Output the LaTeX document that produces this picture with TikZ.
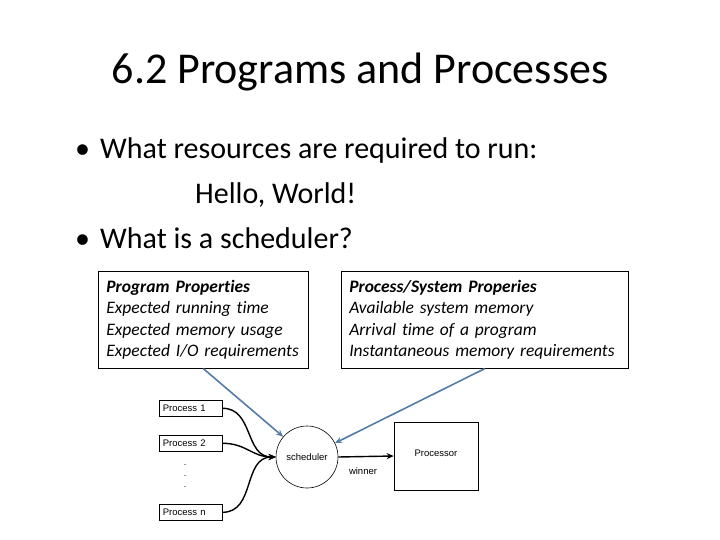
\documentclass[tikz,border=0pt]{standalone}
\usepackage{fontspec}
\setmainfont[Ligatures=NoCommon]{Carlito}
\newfontfamily\arialfont{Liberation Sans}
\usetikzlibrary{arrows.meta, positioning}

\definecolor{linkblue}{RGB}{84,124,170}

\begin{document}
\begin{tikzpicture}[
  x=1pt, y=-1pt,
  title/.style  = {anchor=base, font=\fontsize{44}{50}\selectfont},
  bullet/.style = {anchor=base west, inner sep=0pt, font=\fontsize{30}{36}\selectfont},
  props/.style  = {draw, line width=0.6pt, anchor=north west, align=left,
                   inner xsep=8pt, inner ysep=6pt,
                   font=\fontsize{17.5}{21.5}\selectfont\itshape},
  proc/.style   = {draw, line width=0.6pt, minimum width=63pt, minimum height=16pt,
                   inner sep=0pt, anchor=north west, text width=56pt, align=left,
                   font=\arialfont\fontsize{9.5}{11}\selectfont},
  small/.style  = {font=\arialfont\fontsize{9.5}{11}\selectfont, inner sep=0pt},
  feed/.style   = {-{Stealth[length=7pt,width=6pt]}, line width=1.4pt},
  link/.style   = {-{Stealth[length=7pt,width=6pt]}, linkblue, line width=1.6pt},
]
\useasboundingbox (0,0) rectangle (720,540);

%% Title and bullets
\node[title] (head) at (360,84) {6.2 Programs and Processes};
\node[bullet] (b1) at (75,159) {•};
\node[bullet] (q1) at (100,159) {What resources are required to run:};
\node[bullet] (q1b) at (195,204) {Hello, World!};
\node[bullet] (b2) at (75,248) {•};
\node[bullet] (q2) at (100,248) {What is a scheduler?};

%% Property boxes
\node[props, minimum width=210pt, minimum height=97pt, text width=194pt] (prog) at (98,271)
     {\textbf{Program Properties}\\
      Expected running time\\
      Expected memory usage\\
      Expected I/O requirements};
\node[props, minimum width=287pt, minimum height=97pt, text width=271pt] (sys) at (341,271)
     {\textbf{Process/System Properies}\\
      Available system memory\\
      Arrival time of a program\\
      Instantaneous memory requirements};

%% Processes
\node[proc] (p1) at (159,400) {Process 1};
\node[proc] (p2) at (159,435) {Process 2};
\node[proc] (pn) at (159,504) {Process n};
\node[small, align=center, font=\arialfont\fontsize{9}{11}\selectfont] (dots) at (185,476) {.\\.\\.};

%% Scheduler and processor
\node[draw, circle, line width=0.6pt, minimum size=62pt, inner sep=0pt,
      font=\arialfont\fontsize{9.5}{11}\selectfont] (sched) at (307,457) {scheduler};
\node[draw, line width=0.6pt, minimum width=84pt, minimum height=68pt,
      font=\arialfont\fontsize{9.5}{11}\selectfont] (cpu) at (436,456) {\raisebox{5pt}{Processor}};
\node[small] (win) at (363,471) {winner};

\draw[feed] (p1.east) to[out=0, in=180, looseness=1.1] (sched.west);
\draw[feed] (p2.east) to[out=0, in=180, looseness=1.1] (sched.west);
\draw[feed] (pn.east) to[out=0, in=180, looseness=1.1] (sched.west);
\draw[feed] (sched.east) -- (cpu.west);

\draw[link] (prog.south) -- (sched);
\draw[link] (sys.south) -- (sched);

\end{tikzpicture}
\end{document}
